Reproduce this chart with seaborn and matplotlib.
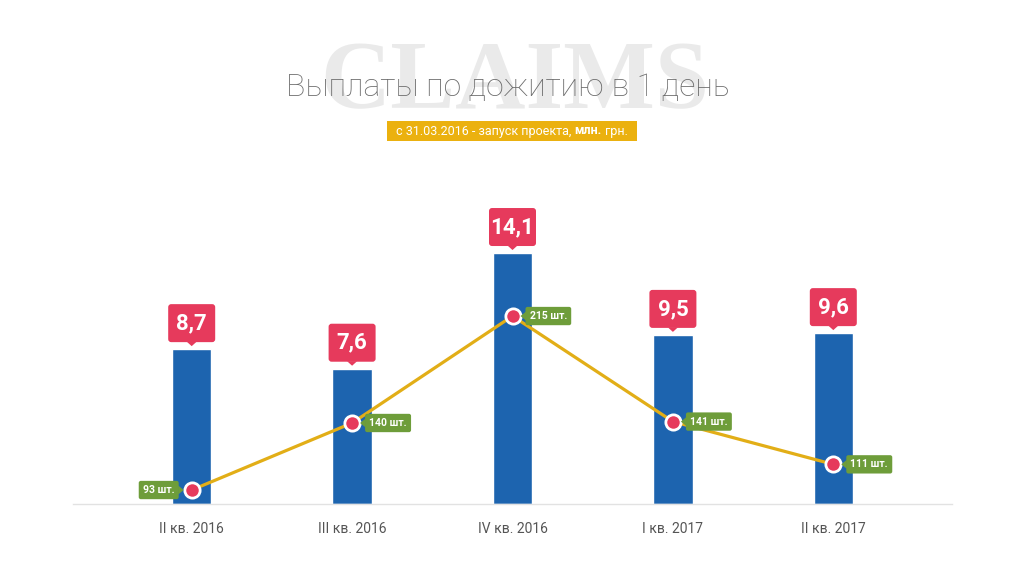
import numpy as np
import pandas as pd
import matplotlib
matplotlib.use("Agg")
import matplotlib.pyplot as plt
import seaborn as sns
from matplotlib.patches import FancyBboxPatch, Polygon, Rectangle
from matplotlib.transforms import IdentityTransform

# Quarterly survival payouts (mln UAH) and number of claims paid within one day
quarters = ["II кв. 2016", "III кв. 2016", "IV кв. 2016", "I кв. 2017", "II кв. 2017"]
payouts = [8.7, 7.6, 14.1, 9.5, 9.6]
claims = [93, 140, 215, 141, 111]
claim_label_side = ["left", "right", "right", "right", "right"]

BLUE = "#1D64AF"
GOLD = "#E2AE17"
RED = "#E63A5C"
GREEN = "#6E9D3A"
YELLOW = "#EBB10F"

sns.set_theme(style="white")
plt.rcParams["font.family"] = ["Roboto", "DejaVu Sans"]

W, H = 1024, 576
fig = plt.figure(figsize=(W / 100, H / 100), dpi=100)
fig.patch.set_facecolor("white")
ident = IdentityTransform()

# Background watermark and headings
fig.text(515 / W, 1 - 108 / H, "CLAIMS", family=["Liberation Serif", "DejaVu Serif"],
         weight="bold", size=70, color="#EAEAEA", ha="center", va="baseline", zorder=0)
fig.text(508 / W, 1 - 96 / H, "Выплаты по дожитию в 1 день", size=23, weight="light",
         color="#6B6B6B", ha="center", va="baseline", zorder=2)

fig.patches.append(Rectangle((387, H - 141), 250, 20, transform=ident,
                             facecolor=YELLOW, edgecolor="none", zorder=1))

# Main axes: bars
ax = fig.add_axes([73 / W, 72 / H, 879 / W, 284.8 / H])
df = pd.DataFrame({"quarter": quarters, "payout": payouts})
sns.barplot(data=df, x="quarter", y="payout", color=BLUE, saturation=1,
            width=0.245, ax=ax, zorder=2)
ax.set_xlim(-0.74, len(quarters) - 1 + 0.74)
ax.set_ylim(0, 16)
ax.set_xlabel("")
ax.set_ylabel("")
ax.set_yticks([])
for s in ["top", "left", "right"]:
    ax.spines[s].set_visible(False)
ax.spines["bottom"].set_color("#E2E2E2")
ax.spines["bottom"].set_linewidth(1)
ax.tick_params(axis="x", length=0, pad=13, labelsize=10, labelcolor="#555555")

# Secondary axes: number of claims
ax2 = ax.twinx()
ax2.set_ylim(83.2, 282.9)
xpos = np.arange(len(quarters))
sns.lineplot(x=xpos, y=claims, ax=ax2, color=GOLD, linewidth=2.3, zorder=3)
ax2.plot(xpos, claims, linestyle="none", marker="o", markersize=11,
         markerfacecolor=RED, markeredgecolor="white", markeredgewidth=2, zorder=4)
ax2.set_yticks([])
for s in ax2.spines.values():
    s.set_visible(False)
ax2.set_xlim(ax.get_xlim())

fig.canvas.draw()
renderer = fig.canvas.get_renderer()

# Subtitle with a bold unit, laid out piece by piece
parts = [("с 31.03.2016 - запуск проекта,", "normal"), ("млн.", "bold"), ("грн.", "normal")]
gap = 3.5
texts = []
for s, wgt in parts:
    t = fig.text(0, 0, s, size=9, weight=wgt, color="white", transform=ident,
                 ha="left", va="center", zorder=3)
    texts.append(t)
widths = [t.get_window_extent(renderer).width for t in texts]
x0 = 512 - (sum(widths) + gap * (len(widths) - 1)) / 2
for t, w in zip(texts, widths):
    t.set_position((x0, H - 131))
    x0 += w + gap

# Value callouts above bars
for i, v in enumerate(payouts):
    bx, by = ax.transData.transform((i, v))
    bw, bh = 47, 38
    fig.patches.append(FancyBboxPatch((bx - bw / 2, by + 7), bw, bh,
                                      boxstyle="round,pad=0,rounding_size=3",
                                      transform=ident, facecolor=RED, edgecolor="none", zorder=5))
    fig.patches.append(Polygon([(bx - 5, by + 7.5), (bx + 5, by + 7.5), (bx, by + 3)],
                               closed=True, transform=ident, facecolor=RED,
                               edgecolor="none", zorder=5))
    fig.text(bx, by + 7 + bh / 2, f"{v:.1f}".replace(".", ","), transform=ident,
             ha="center", va="center", size=16, weight="bold", color="white", zorder=6)

# Claim count tags next to the points
fs = 7.5
pad_px = 0.4 * fs * 100 / 72
for i, (c, side) in enumerate(zip(claims, claim_label_side)):
    px, py = ax2.transData.transform((i, c))
    sgn = 1 if side == "right" else -1
    tx = px + sgn * (13 + pad_px)
    fig.text(tx, py, f"{c} шт.", transform=ident, ha="left" if sgn > 0 else "right",
             va="center", size=fs, weight="bold", color="white", zorder=6,
             bbox=dict(boxstyle="round,pad=0.4,rounding_size=0.2", facecolor=GREEN,
                       edgecolor="none"))
    fig.patches.append(Polygon([(px + sgn * 8, py), (px + sgn * 13.5, py + 4.5),
                                (px + sgn * 13.5, py - 4.5)], closed=True, transform=ident,
                               facecolor=GREEN, edgecolor="none", zorder=5))

fig.savefig("out.png", dpi=100, facecolor="white")
